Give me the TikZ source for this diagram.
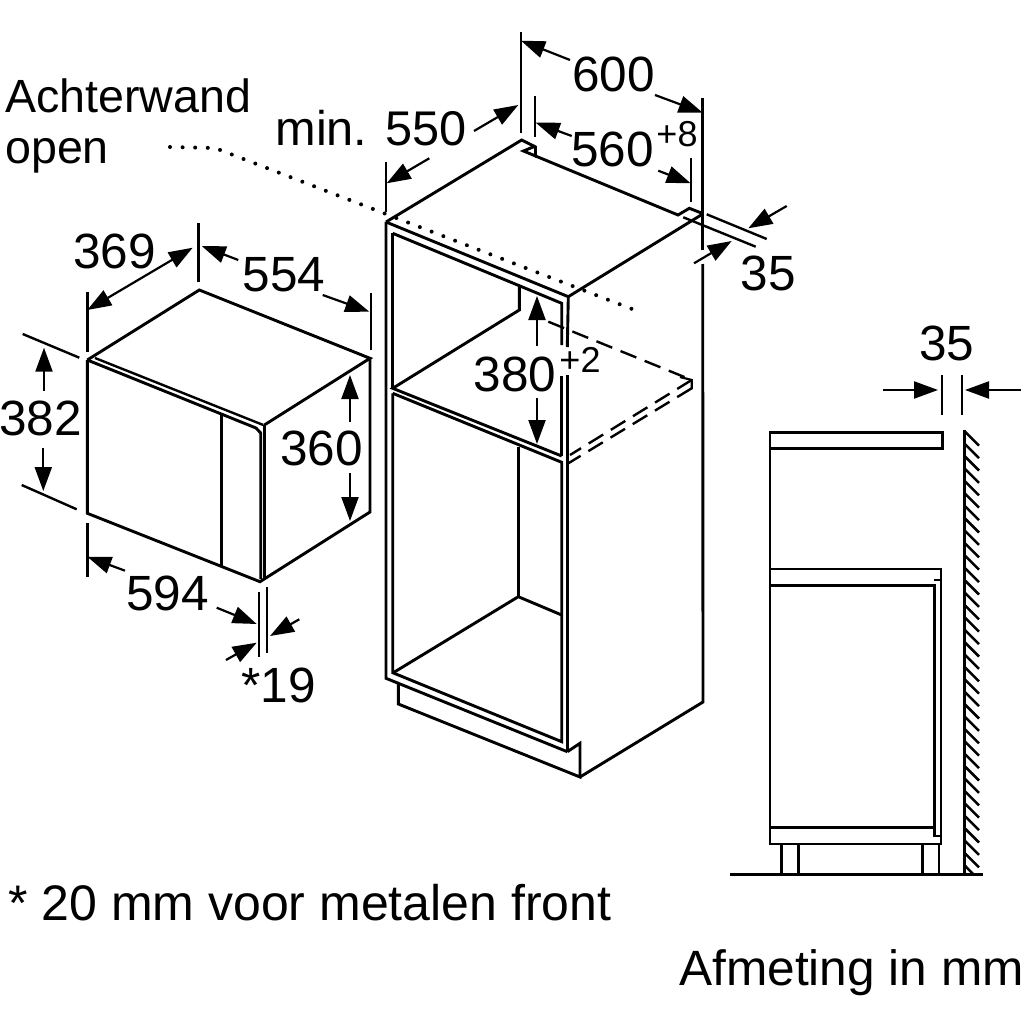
\documentclass[tikz,border=0pt]{standalone}
\usepackage{fontspec}
\setmainfont{Liberation Sans}
\usetikzlibrary{arrows.meta}
\tikzset{
  outline/.style={line width=2.9pt,line join=miter,line cap=butt},
  extline/.style={line width=2.4pt},
  dimarrow/.style={line width=2.2pt,-{Triangle[length=24pt,width=17pt]}},
  dimboth/.style={line width=2.2pt,{Triangle[length=24pt,width=17pt]}-{Triangle[length=24pt,width=17pt]}},
  hiddenline/.style={line width=2.4pt,dash pattern=on 17pt off 9pt},
  dottedline/.style={line width=4pt,line cap=round,dash pattern=on 0pt off 12.6pt},
  dimtext/.style={inner sep=0pt,anchor=base,font=\fontsize{49.5}{50}\selectfont},
  suptext/.style={inner sep=0pt,anchor=base,font=\fontsize{36}{37}\selectfont},
  plaintext/.style={inner sep=0pt,anchor=base west,font=\fontsize{46.6}{50}\selectfont},
}
\begin{document}
\begin{tikzpicture}[x=1pt,y=-1pt]
\useasboundingbox (0,0) rectangle (1024,1024);
% ---------- cabinet ----------
\coordinate (ctb) at (521.7,140);
\coordinate (ctl) at (386,222);
\coordinate (ctf) at (568.3,296.7);
\coordinate (ctr) at (702.7,214);
\draw[outline] (ctl) -- (ctb) -- (535.5,147) -- (535.5,156) -- (523.5,151) -- (535.5,146);
\draw[outline] (535.5,156) -- (678,215) -- (689.3,208.3) -- (702.7,213.5);
\draw[outline] (ctr) -- (ctf) -- (ctl);
% left and right posts
\draw[outline] (ctl) -- (386,678.3) -- (567.3,751.7);
\draw[outline] (392.7,233.3) -- (392.7,388.3);
\draw[outline] (392.7,393.3) -- (392.7,672.7) -- (561.7,741.7) -- (561.7,462.5);
\draw[outline] (392.7,233.3) -- (561.7,303.3) -- (561.7,345);
\draw[outline] (561.7,376) -- (561.7,456);
\draw[outline] (ctf) -- (567.3,347);
\draw[outline] (567.3,375) -- (567.3,752);
% shelf
\draw[outline] (519.3,286.7) -- (519.3,310) -- (392.7,388.3) -- (561.7,456);
\draw[outline] (392.7,393.3) -- (562.7,462.7);
\draw[outline] (518.3,446.7) -- (518.3,596.7);
\draw[outline] (393.3,672.7) -- (518.3,596.7) -- (561.7,615);
% plinth
\draw[outline] (398.3,684) -- (398.3,704) -- (580,777) -- (580,743.3) -- (567.3,751.7);
\draw[outline] (580,777) -- (703,702) -- (702.7,264);
\draw[outline] (702.7,250) -- (702.7,98);
% hidden shelf
\draw[hiddenline] (548.3,321.7) -- (691.7,380);
\draw[hiddenline] (691.7,380) -- (570,455);
\draw[hiddenline] (691.7,388.3) -- (568.3,463.3);
\draw[line width=2.2pt] (680,377) -- (691.7,380) -- (691.7,389);
% dotted line
\draw[dottedline] (170,147) -- (215,148) -- (632,309);
% cabinet dimensions
\draw[extline] (520.7,32) -- (520.7,133);
\draw[extline] (535,96) -- (535,136.7);
\draw[extline] (690.7,158.3) -- (690.7,201.7);
\draw[extline] (386,161.7) -- (386,211.7);
\draw[extline] (706.7,214.3) -- (766.7,239);
\draw[extline] (683.3,217.3) -- (755.7,246.7);
\draw[dimarrow] (570,60) -- (521,40.7);
\draw[dimarrow] (655,95) -- (702.7,112.7);
\draw[dimarrow] (571.7,136) -- (535.7,122.7);
\draw[dimarrow] (658.3,170.7) -- (690.7,183.3);
\draw[dimarrow] (429.3,158.3) -- (386.7,183.3);
\draw[dimarrow] (474,131) -- (518.3,105);
\draw[dimarrow] (786.7,206) -- (748.3,228.3);
\draw[dimarrow] (694,263.3) -- (731.7,241);
\draw[dimarrow] (537,346) -- (537,296);
\draw[dimarrow] (537,398) -- (537,444);
\node[dimtext] (t600) at (613.5,92) {600};
\node[dimtext] (t560) at (612.5,167) {560};
\node[suptext] (tp8) at (677,147) {+8};
\node[dimtext,anchor=base east,font=\fontsize{48.7}{50}\selectfont] (t550) at (467,146) {min. 550};
\node[dimtext] (t35a) at (768,290) {35};
\node[dimtext] (t380) at (515,391) {380};
\node[suptext] (tp2) at (580,372) {+2};
% ---------- microwave ----------
\draw[outline] (87.3,360) -- (199.3,290) -- (370,358.3) -- (264.3,425);
\draw[line width=2.4pt] (95,358) -- (263.3,425);
\draw[outline,line join=round] (87.3,360) -- (256,428) -- (260.7,433) -- (260.7,579);
\draw[outline] (87.3,360) -- (87.3,513.3) -- (260,581.7) -- (370,512) -- (370,358.3);
\draw[outline] (264.3,425) -- (264.3,579);
\draw[outline] (221.7,415) -- (221.7,567);
\draw[extline] (87.3,291.7) -- (87.3,351.7);
\draw[extline] (198.3,223.3) -- (198.3,281.7);
\draw[extline] (371,293.3) -- (371,350);
\draw[extline] (22.7,334) -- (79.3,357.7);
\draw[extline] (21.7,485) -- (76.7,509.3);
\draw[extline] (87.3,523.3) -- (87.3,576.7);
\draw[extline] (259,591.7) -- (259,656.7);
\draw[extline] (266.7,587) -- (266.7,652.7);
\draw[dimboth] (87.3,310) -- (192.7,247.7);
\draw[dimarrow] (238.3,260) -- (201.7,246);
\draw[dimarrow] (322.7,295) -- (369.3,311.7);
\draw[dimarrow] (44,390.7) -- (44,347.7);
\draw[dimarrow] (43.3,448.3) -- (43.3,491);
\draw[dimarrow] (350,421.7) -- (350,375);
\draw[dimarrow] (350,473) -- (350,521);
\draw[dimarrow] (125,570.7) -- (87.3,556.7);
\draw[dimarrow] (216.7,607.7) -- (256.7,624);
\draw[dimarrow] (299.3,619.3) -- (270,636);
\draw[dimarrow] (226,660) -- (256.7,642.7);
\node[dimtext] (t369) at (114.5,268) {369};
\node[dimtext] (t554) at (284,291.7) {554};
\node[dimtext] (t382) at (40.7,435) {382};
\node[dimtext] (t360) at (321.7,465) {360};
\node[dimtext] (t594) at (167.5,610) {594};
\node[dimtext] (t19) at (278.5,702.7) {*19};
% ---------- side view ----------
\draw[outline] (770,448.3) -- (942.7,448.3) -- (942.7,432.7) -- (770,432.7) -- (770,844) -- (941,844) -- (941,569) -- (770,569);
\draw[outline] (770,585.7) -- (934.3,585.7) -- (934.3,836) -- (941,836);
\draw[outline] (934.3,580) -- (941,580);
\draw[outline] (770,827.7) -- (934.3,827.7);
\draw[outline] (781.7,844) -- (781.7,874);
\draw[outline] (798.3,844) -- (798.3,874);
\draw[outline] (922.3,844) -- (922.3,874);
\draw[outline] (939,844) -- (939,874);
\draw[outline] (730,874.3) -- (982.7,874.3);
\draw[outline] (964.3,430) -- (964.3,874);
\foreach \k in {0,...,34}{
  \draw[line width=2.5pt] (964.3,431+12.4*\k) -- (979,445.7+12.4*\k);
}
\draw[line width=2.5pt] (964.3,865) -- (973,874);
\draw[extline] (941.7,375) -- (941.7,415);
\draw[extline] (961.7,375) -- (961.7,415);
\draw[dimarrow] (883,390) -- (938,390);
\draw[dimarrow] (1020.7,390) -- (965,390);
\node[dimtext] (t35b) at (946.7,360) {35};
% ---------- free text ----------
\node[plaintext] (achter) at (5,113) {Achterwand};
\node[plaintext] (open) at (5,164) {open};
\node[plaintext,font=\fontsize{50}{50}\selectfont] (note) at (8,920.5) {* 20 mm voor metalen front};
\node[dimtext,anchor=base east,font=\fontsize{49.6}{50}\selectfont] (afm) at (1024,985) {Afmeting in mm};
\end{tikzpicture}
\end{document}
